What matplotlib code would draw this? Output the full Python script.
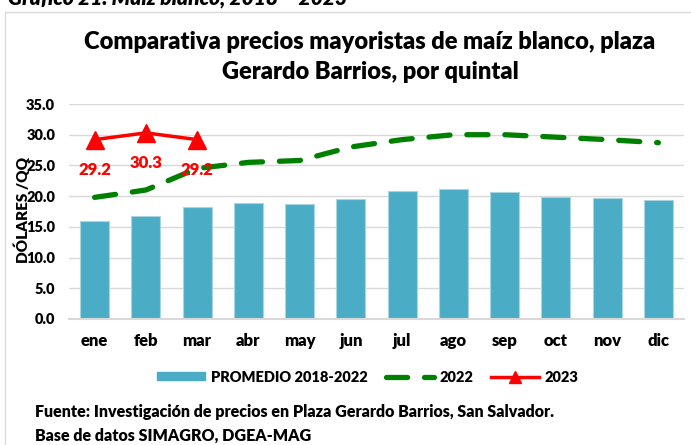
import matplotlib.pyplot as plt
from matplotlib.patches import Rectangle, Patch
from matplotlib.lines import Line2D
import numpy as np

plt.rcParams['font.family'] = ['Lato', 'DejaVu Sans']
plt.rcParams['font.weight'] = 'heavy'

meses = ["ene", "feb", "mar", "abr", "may", "jun", "jul", "ago", "sep", "oct", "nov", "dic"]
promedio = [16.0, 16.7, 18.3, 18.9, 18.8, 19.6, 20.9, 21.1, 20.7, 19.8, 19.7, 19.3]
precios_2022 = [19.8, 21.0, 24.5, 25.5, 25.8, 28.0, 29.2, 30.0, 30.0, 29.6, 29.2, 28.7]
precios_2023 = [29.2, 30.3, 29.2]

W = "heavy"

fig = plt.figure(figsize=(6.91, 4.45), dpi=100)
ax = fig.add_axes([69 / 691, 1 - 319 / 445, 615 / 691, 215 / 445])

x = np.arange(len(meses))
ax.bar(x, promedio, width=0.57, color="#4bacc6", edgecolor="#a9d5e2", linewidth=0.8, zorder=2)
ax.plot(x, precios_2022, color="#008000", lw=3.8, dashes=(4, 3.2),
        dash_capstyle="round", zorder=3)
x23 = x[:len(precios_2023)]
ax.plot(x23, precios_2023, color="#ff0000", lw=2.5, marker="^", markersize=13, zorder=4)
for xi, v in zip(x23, precios_2023):
    ax.annotate(f"{v:.1f}", (xi, v), xytext=(0, -22), textcoords="offset points",
                ha="center", va="center", color="#ff0000", fontsize=12, fontweight=W, zorder=5)

ax.set_xlim(-0.5, len(meses) - 0.5)
ax.set_ylim(0, 35)
ax.set_yticks(np.arange(0, 35.1, 5))
ax.set_yticklabels([f"{t:.1f}" for t in np.arange(0, 35.1, 5)], fontsize=10.5, fontweight=W)
ax.set_xticks(x)
ax.set_xticklabels(meses, fontsize=12, fontweight=W)
ax.tick_params(length=0, pad=10)
ax.tick_params(axis="y", pad=10)
ax.grid(axis="y", color="#d9d9d9", lw=1, zorder=0)
for s in ["top", "right", "left"]:
    ax.spines[s].set_visible(False)
ax.spines["bottom"].set_color("#d9d9d9")
ax.spines["bottom"].set_linewidth(1.5)

fig.text(22 / 691, 1 - 210 / 445, "DÓLARES /QQ", rotation=90, ha="center", va="center",
         fontsize=11, fontweight=W)

fig.text(370 / 691, 1 - 42 / 445, "Comparativa precios mayoristas de maíz blanco, plaza",
         ha="center", va="center", fontsize=17, fontweight=W)
fig.text(370 / 691, 1 - 72 / 445, "Gerardo Barrios, por quintal",
         ha="center", va="center", fontsize=17, fontweight=W)

fig.text(8 / 691, 1 + 2 / 445, "Gráfico 21. Maíz blanco, 2018 – 2023", ha="left", va="center",
         fontsize=15, fontweight=W, style="italic")

handles = [Patch(facecolor="#4bacc6", edgecolor="#4bacc6"),
           Line2D([0], [0], color="#008000", lw=3.8, dashes=(4, 3.2), dash_capstyle="round"),
           Line2D([0], [0], color="#ff0000", lw=2.5, marker="^", markersize=8)]
fig.legend(handles, ["PROMEDIO 2018-2022", "2022", "2023"], loc="center",
           bbox_to_anchor=(368 / 691, 1 - 377 / 445), ncol=3, frameon=False,
           prop={"size": 10.5, "weight": W}, handlelength=3.3, handleheight=0.5,
           columnspacing=1.2, handletextpad=0.4)

fig.text(35 / 691, 1 - 412 / 445, "Fuente: Investigación de precios en Plaza Gerardo Barrios, San Salvador.",
         ha="left", va="center", fontsize=11.5, fontweight=W)
fig.text(35 / 691, 1 - 436 / 445, "Base de datos SIMAGRO, DGEA-MAG",
         ha="left", va="center", fontsize=11.5, fontweight=W)

fig.patches.append(Rectangle((5 / 691, -0.05), 690 / 691, 1 - 12 / 445 + 0.05,
                             transform=fig.transFigure, fill=False, edgecolor="#d9d9d9", lw=1))

fig.savefig("out.png", dpi=100)
